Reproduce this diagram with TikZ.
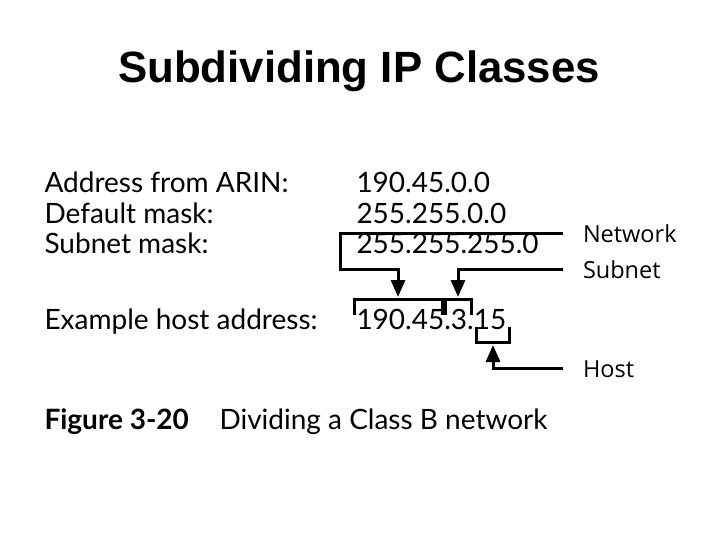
\documentclass[tikz,border=0pt]{standalone}
\usepackage{fontspec}
\setmainfont{Lato}
\newfontfamily\titlefont{Liberation Sans}
\newfontfamily\tagfont{Open Sans}
\usetikzlibrary{positioning}
\usetikzlibrary{arrows.meta}
\tikzset{lbl/.style = {anchor = base west, inner sep = 0, font = \fontsize{28}{30}\selectfont}}
\tikzset{tag/.style = {anchor = base west, inner sep = 0, outer xsep = 20pt, font = \tagfont\fontsize{23.5}{26}\selectfont}}
\tikzset{pointer/.style = {-{Triangle[length = 17pt, width = 14pt]}}}

\begin{document}
\begin{tikzpicture}[x = 1pt, y = -1pt, line width = 3pt]
    \useasboundingbox (0,0) rectangle (720,540);
    \node[anchor = base, inner sep = 0, font = \titlefont\bfseries\fontsize{43.8}{50}\selectfont] (title) at (359,83) {Subdividing IP Classes};

    \node[lbl] (arin) at (43,193) {Address from ARIN:};
    \node[lbl] (defmask) at (43,223) {Default mask:};
    \node[lbl] (submask) at (43,254) {Subnet mask:};
    \node[lbl] (example) at (43,329) {Example host address:};

    \node[lbl] (arinval) at (355,193) {190.45.0.0};
    \node[lbl] (defval) at (355,223) {255.255.0.0};
    \node[lbl] (subval) at (355,254) {255.255.255.0};
    \node[lbl] (hostval) at (355,329) {190.45.3.15};

    % text starts 20pt right of the anchor (outer xsep)
    \node[tag] (nettag) at (563,242) {Network};
    \node[tag] (subtag) at (563,278) {Subnet};
    \node[tag] (hosttag) at (563,377) {Host};

    \node[lbl, font = \bfseries\fontsize{28}{30}\selectfont] (fignum) at (43,429) {Figure 3-20};
    \node[lbl] (figtext) at (218,429) {Dividing a Class B network};

    % brackets
    \draw (354,315) -- (354,299) -- (442,299) -- (442,315);
    \draw (445,315) -- (445,299) -- (471,299) -- (471,315);
    \draw (476,327) -- (476,342) -- (509,342) -- (509,327);

    \coordinate (netbend) at (340,269);
    \coordinate (nettip) at (398,297);
    \coordinate (subtip) at (458,297);
    \coordinate (hosttip) at (493,345);
    \draw[pointer] (nettag.west) -| (netbend) -| (nettip);
    \draw[pointer] (subtag.west) -| (subtip);
    \draw[pointer] (hosttag.west) -| (hosttip);
\end{tikzpicture}
\end{document}
